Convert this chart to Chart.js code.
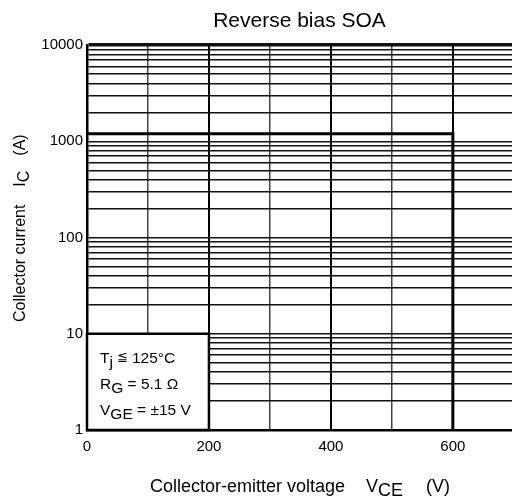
<!DOCTYPE html>
<html>
<head>
<meta charset="utf-8">
<script src="https://cdn.jsdelivr.net/npm/chart.js@4"></script>
<style>
html, body { margin: 0; padding: 0; background: #fff; }
</style>
</head>
<body>
<canvas id="soa" width="512" height="500"></canvas>
<script>
// axis ticks
var vceTicks = [0, 100, 200, 300, 400, 500, 600];
var vceLabels = [0, 200, 400, 600];
var icDecades = [1, 10, 100, 1000];
var icSteps = [1, 2, 3, 4, 5, 6, 7, 8, 9];
var icLabels = [1, 10, 100, 1000, 10000];

// SOA boundary (V, A)
var soaV = [0, 600, 600];
var soaI = [1200, 1200, 1];

// conditions box corner
var boxV = 200;
var boxI = 10;

var icTicks = [];
icDecades.forEach(function (d) {
    icSteps.forEach(function (s) { icTicks.push(d * s); });
});
icTicks.push(10000);

var FONT = '"Liberation Sans", Arial, Helvetica, sans-serif';

// draws text pieces, sub = subscript, returns end x
function drawParts(ctx, parts, x, y, size) {
    parts.forEach(function (p) {
        var fs = p.size || size;
        ctx.font = fs + 'px ' + FONT;
        var dy = p.sub ? 4 : (p.dy || 0);
        if (p.gap) x += p.gap;
        ctx.fillText(p.t, x, y + dy);
        x += ctx.measureText(p.t).width;
    });
    return x;
}

var soaText = {
    id: 'soaText',
    beforeDatasetsDraw: function (chart) {
        var ctx = chart.ctx;
        var xs = chart.scales.x, ys = chart.scales.y;
        var l = xs.getPixelForValue(0), r = xs.getPixelForValue(boxV);
        var t = ys.getPixelForValue(boxI), b = ys.getPixelForValue(1);
        ctx.save();
        ctx.fillStyle = '#fff';
        ctx.fillRect(l, t, r - l, b - t);
        ctx.strokeStyle = '#000';
        ctx.lineWidth = 2.5;
        ctx.strokeRect(l, t, r - l, b - t);

        ctx.fillStyle = '#000';
        ctx.textBaseline = 'alphabetic';
        var tx = l + 13;
        drawParts(ctx, [{ t: 'T' }, { t: 'j', sub: true }, { t: '≦', size: 13, dy: -2, gap: 4 }, { t: '125°C', gap: 4 }], tx, t + 29, 15.5);
        drawParts(ctx, [{ t: 'R' }, { t: 'G', sub: true }, { t: ' = 5.1 Ω' }], tx, t + 55, 15.5);
        drawParts(ctx, [{ t: 'V' }, { t: 'GE', sub: true }, { t: ' = ±15 V' }], tx, t + 81, 15.5);
        ctx.restore();
    },
    afterDraw: function (chart) {
        var ctx = chart.ctx;
        var area = chart.chartArea;
        ctx.save();
        ctx.fillStyle = '#000';
        ctx.textBaseline = 'alphabetic';

        // title
        ctx.font = '21px ' + FONT;
        ctx.textAlign = 'center';
        ctx.fillText('Reverse bias SOA', (area.left + area.right) / 2, 27);
        ctx.textAlign = 'left';

        // x title
        drawParts(ctx, [{ t: 'Collector-emitter voltage' }, { t: 'V', gap: 21 }, { t: 'CE', sub: true }, { t: '(V)', gap: 23 }], 150, 492, 18);

        // y title
        ctx.translate(25, 322);
        ctx.rotate(-Math.PI / 2);
        drawParts(ctx, [{ t: 'Collector current' }, { t: 'I', gap: 18 }, { t: 'C', sub: true }, { t: '(A)', gap: 15 }], 0, 0, 16);
        ctx.restore();
    }
};

var myChart = new Chart(document.getElementById('soa'), {
    type: 'line',
    data: {
        datasets: [{
            data: soaV.map(function (v, i) { return { x: v, y: soaI[i] }; }),
            borderColor: '#000',
            borderWidth: 3,
            pointRadius: 0,
            tension: 0,
            fill: false
        }]
    },
    options: {
        responsive: false,
        animation: false,
        events: [],
        layout: { padding: { left: 0, top: 45, right: 0, bottom: 0 } },
        plugins: {
            legend: { display: false },
            tooltip: { enabled: false },
            title: { display: false }
        },
        scales: {
            x: {
                type: 'linear',
                min: 0,
                max: 697,
                afterBuildTicks: function (s) {
                    s.ticks = vceTicks.map(function (v) { return { value: v }; });
                },
                afterFit: function (s) { s.height = 70; },
                ticks: {
                    autoSkip: false,
                    maxRotation: 0,
                    padding: 8,
                    color: '#000',
                    font: { family: FONT, size: 15 },
                    callback: function (v) { return vceLabels.indexOf(v) >= 0 ? String(v) : ''; }
                },
                grid: {
                    drawTicks: false,
                    color: function (c) { return c.tick && c.tick.value % 200 === 0 ? '#000' : '#444'; },
                    lineWidth: function (c) { return c.tick && c.tick.value % 200 === 0 ? 2 : 1.5; }
                },
                border: { display: true, color: '#000', width: 2.5 }
            },
            y: {
                type: 'logarithmic',
                min: 1,
                max: 10000,
                afterBuildTicks: function (s) {
                    s.ticks = icTicks.map(function (v) { return { value: v }; });
                },
                afterFit: function (s) { s.width = 87; },
                ticks: {
                    autoSkip: false,
                    padding: 4,
                    color: '#000',
                    font: { family: FONT, size: 15 },
                    callback: function (v) { return icLabels.indexOf(v) >= 0 ? String(v) : ''; }
                },
                grid: {
                    drawTicks: false,
                    color: '#111',
                    lineWidth: function (c) { return c.tick && c.tick.value === 10000 ? 3.5 : 1.4; }
                },
                border: { display: true, color: '#000', width: 2.5 }
            }
        }
    },
    plugins: [soaText]
});
</script>
</body>
</html>
